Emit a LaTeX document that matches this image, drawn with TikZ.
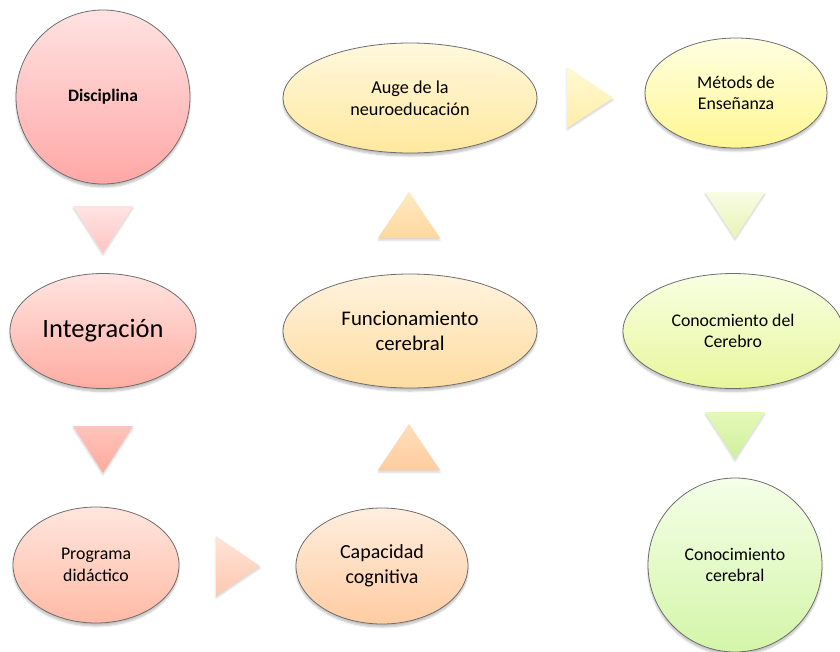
\documentclass[tikz,border=0pt]{standalone}
\usepackage{fontspec}
\setmainfont{Carlito}
\usetikzlibrary{shapes.geometric,shadows.blur}
\definecolor{bordc}{HTML}{6E6E6E}
\tikzset{
  bub/.style={ellipse, draw=bordc, line width=0.8pt, inner sep=0pt, align=center,
    font=\fontsize{17.8}{21.5}\selectfont,
    blur shadow={shadow xshift=0pt, shadow yshift=-3pt, shadow blur steps=6, shadow opacity=25}},
  tri/.style={draw=none,
    blur shadow={shadow xshift=0pt, shadow yshift=-2pt, shadow blur steps=5, shadow opacity=18}},
}
\begin{document}
\begin{tikzpicture}[x=1pt,y=-1pt]
\useasboundingbox (0,0) rectangle (840,651);
% nodes
\node[bub, minimum width=174pt, minimum height=174pt, top color={rgb,255:red,255;green,226;blue,226}, bottom color={rgb,255:red,255;green,168;blue,166},
  font=\fontsize{17.5}{20}\selectfont\bfseries] (disc) at (103,97) {Disciplina};
\node[bub, minimum width=186pt, minimum height=115pt, top color={rgb,255:red,255;green,228;blue,224}, bottom color={rgb,255:red,255;green,172;blue,162},
  font=\fontsize{26.5}{30}\selectfont] (integ) at (103,331) {Integración};
\node[bub, minimum width=166pt, minimum height=116pt, top color={rgb,255:red,255;green,230;blue,222}, bottom color={rgb,255:red,255;green,186;blue,164}] (prog) at (96,565) {Programa\\didáctico};
\node[bub, minimum width=172pt, minimum height=116pt, top color={rgb,255:red,255;green,238;blue,222}, bottom color={rgb,255:red,255;green,204;blue,162},
  font=\fontsize{20}{25}\selectfont] (capa) at (382,566) {Capacidad\\cognitiva};
\node[bub, minimum width=254pt, minimum height=114pt, top color={rgb,255:red,255;green,243;blue,222}, bottom color={rgb,255:red,255;green,220;blue,160},
  font=\fontsize{20.8}{25}\selectfont] (func) at (410,331) {Funcionamiento\\cerebral};
\node[bub, minimum width=254pt, minimum height=110pt, top color={rgb,255:red,255;green,248;blue,222}, bottom color={rgb,255:red,255;green,232;blue,158},
  font=\fontsize{18.2}{21.5}\selectfont] (auge) at (410,98) {Auge de la\\neuroeducación};
\node[bub, minimum width=182pt, minimum height=110pt, top color={rgb,255:red,255;green,255;blue,226}, bottom color={rgb,255:red,255;green,246;blue,146}] (meto) at (736,93) {Métods de\\Enseñanza};
\node[bub, minimum width=220pt, minimum height=115pt, top color={rgb,255:red,248;green,255;blue,226}, bottom color={rgb,255:red,232;green,246;blue,156}] (conoc) at (733,331) {Conocmiento del\\Cerebro};
\node[bub, minimum width=174pt, minimum height=174pt, top color={rgb,255:red,244;green,255;blue,232}, bottom color={rgb,255:red,212;green,245;blue,168}] (conce) at (735,565) {Conocimiento\\cerebral};
% triangle connectors
\path[tri, top color={rgb,255:red,255;green,228;blue,228}, bottom color={rgb,255:red,255;green,196;blue,194}] (73,206) -- (133,206) -- (103,253) -- cycle;
\path[tri, top color={rgb,255:red,255;green,196;blue,188}, bottom color={rgb,255:red,255;green,170;blue,156}] (73,426) -- (133,426) -- (103,473) -- cycle;
\path[tri, top color={rgb,255:red,255;green,228;blue,216}, bottom color={rgb,255:red,255;green,200;blue,176}] (216,536) -- (260,566) -- (216,596) -- cycle;
\path[tri, top color={rgb,255:red,255;green,222;blue,186}, bottom color={rgb,255:red,255;green,204;blue,160}] (378,470) -- (409,424) -- (440,470) -- cycle;
\path[tri, top color={rgb,255:red,255;green,234;blue,194}, bottom color={rgb,255:red,255;green,216;blue,160}] (378,238) -- (409,192) -- (440,238) -- cycle;
\path[tri, top color={rgb,255:red,255;green,248;blue,210}, bottom color={rgb,255:red,255;green,238;blue,170}] (567,67) -- (613,98) -- (567,128) -- cycle;
\path[tri, top color={rgb,255:red,248;green,252;blue,228}, bottom color={rgb,255:red,232;green,244;blue,180}] (705,192) -- (765,192) -- (735,238) -- cycle;
\path[tri, top color={rgb,255:red,228;green,248;blue,184}, bottom color={rgb,255:red,206;green,240;blue,156}] (705,412) -- (765,412) -- (735,459) -- cycle;
\end{tikzpicture}
\end{document}
